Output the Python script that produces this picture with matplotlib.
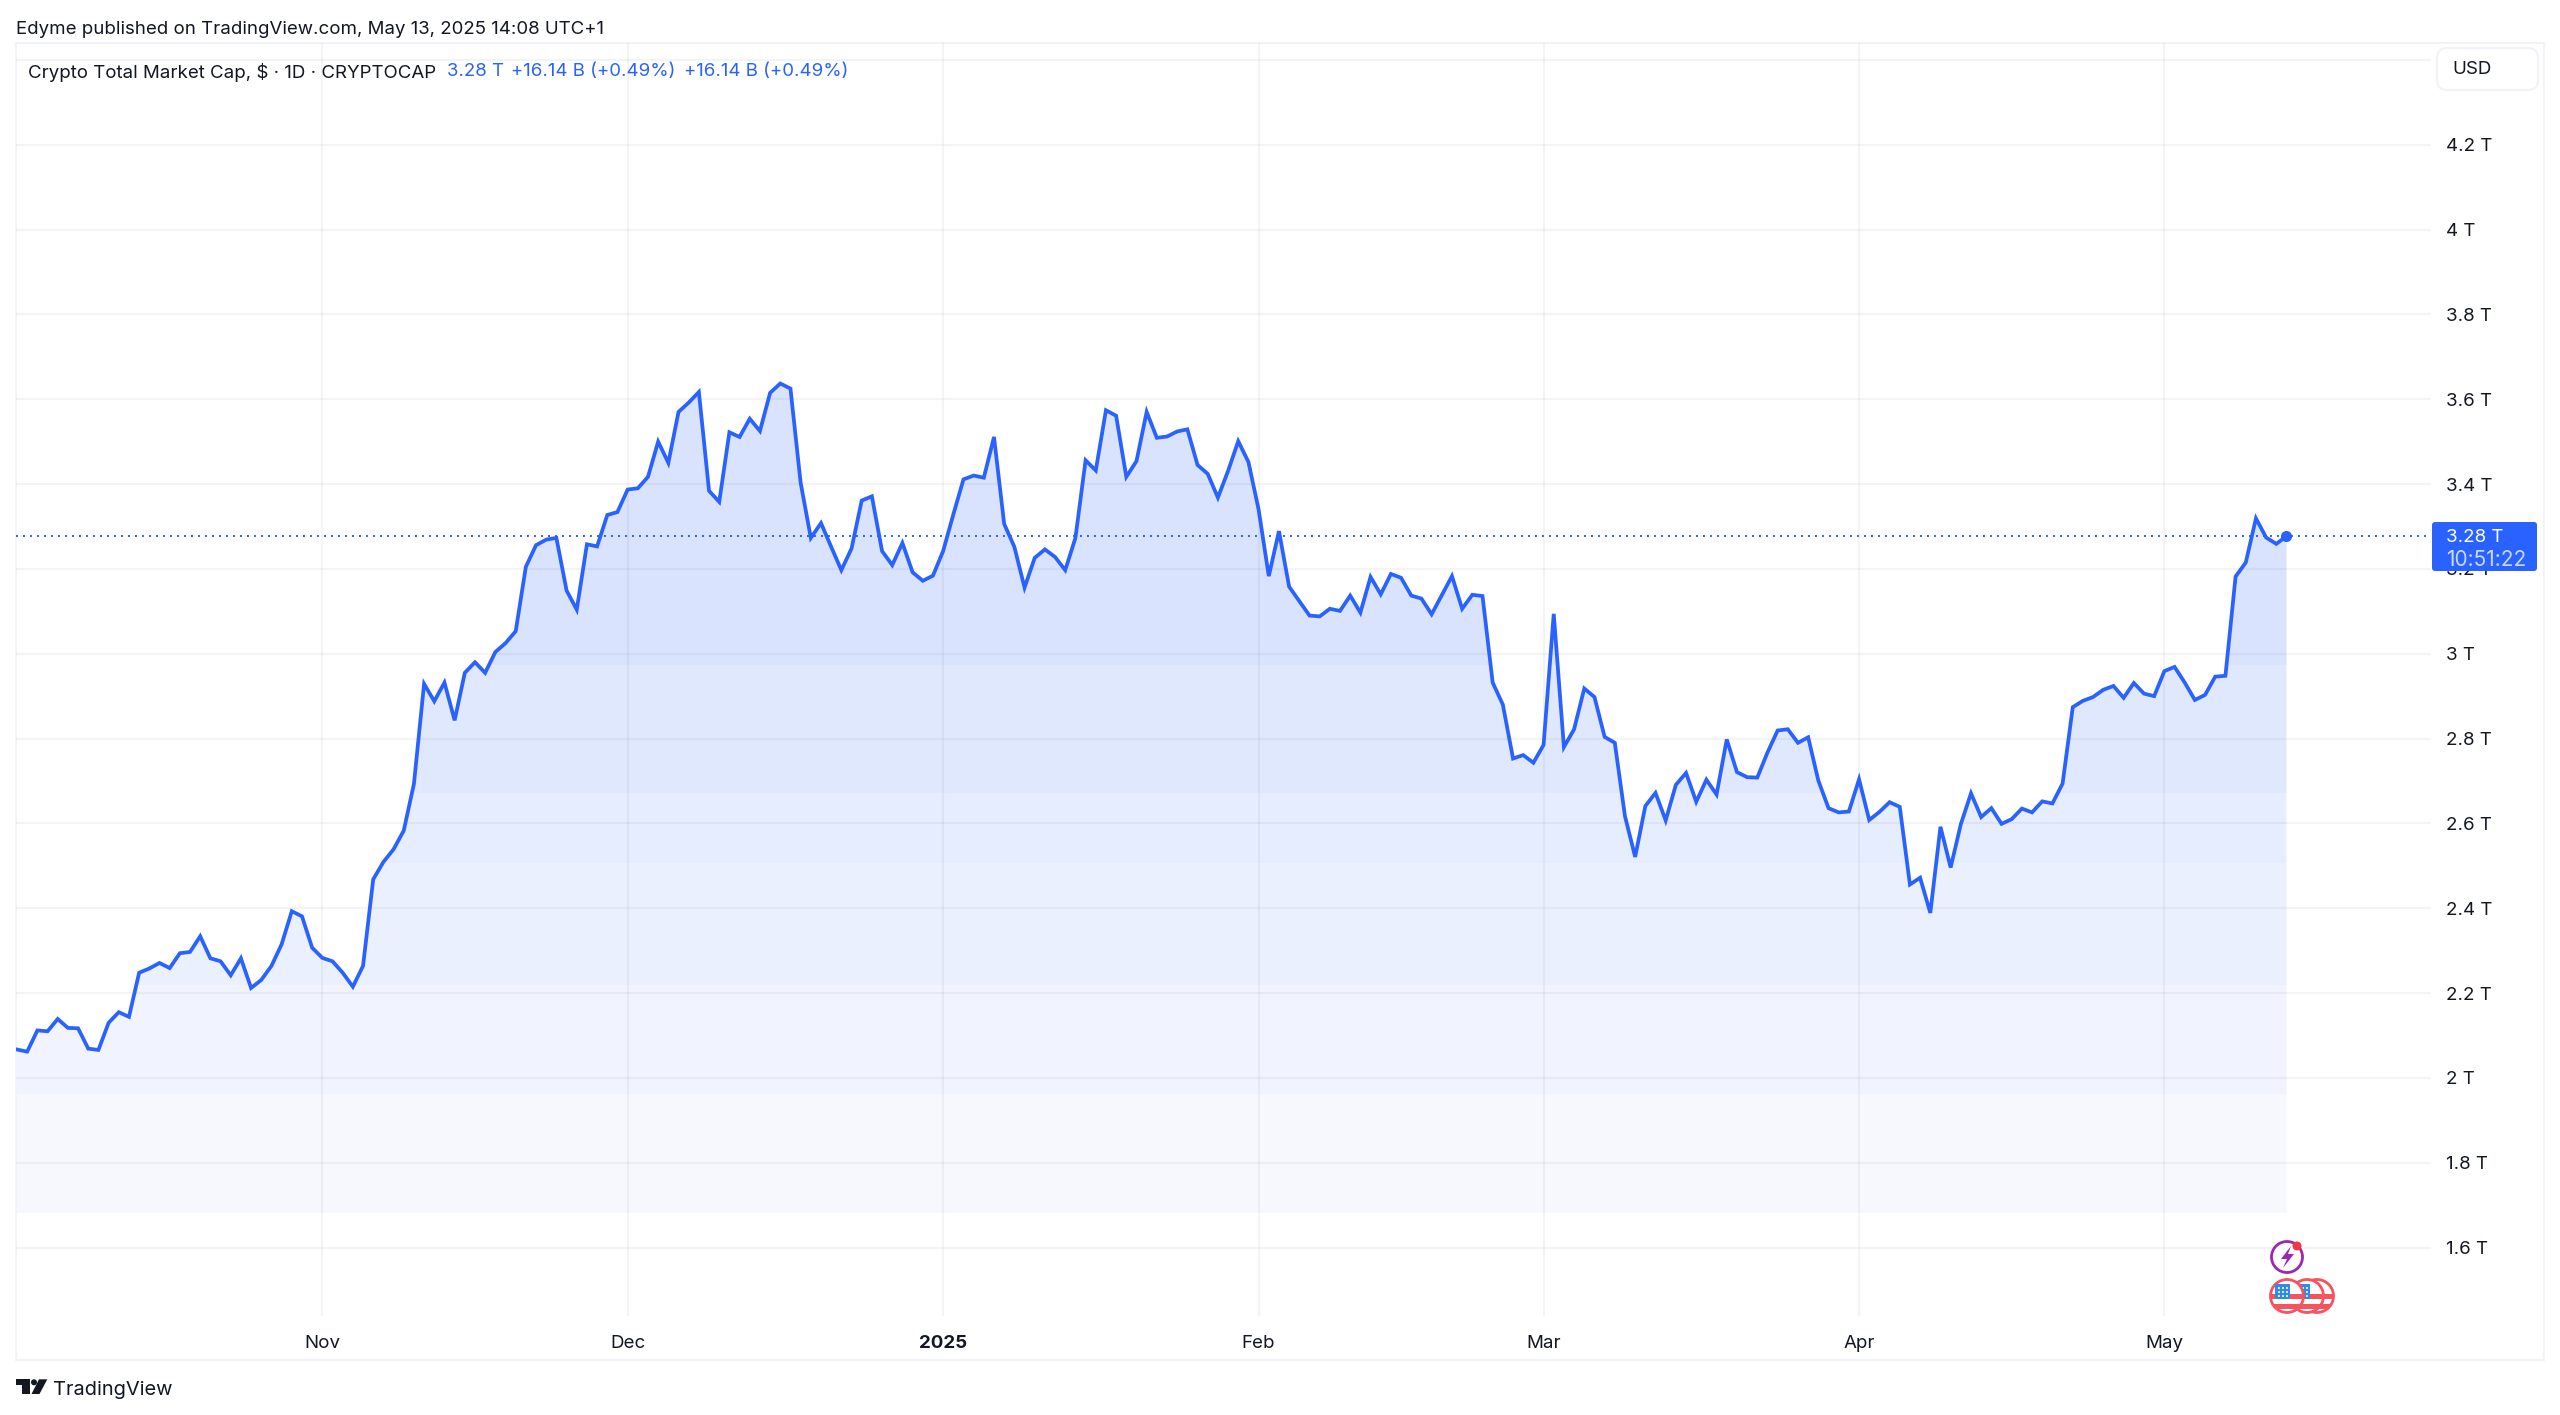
import numpy as np
import pandas as pd
import matplotlib
matplotlib.use("Agg")
import matplotlib.pyplot as plt
import matplotlib.dates as mdates
from matplotlib.patches import Circle, FancyBboxPatch, Polygon, Rectangle

plt.rcParams['font.family'] = ['Inter', 'DejaVu Sans']

# daily close in trillions
market_cap = [
    2.067, 2.062, 2.112, 2.110, 2.139, 2.118, 2.117, 2.069, 2.066, 2.130,
    2.155, 2.144, 2.248, 2.258, 2.271, 2.259, 2.294, 2.297, 2.334, 2.282,
    2.275, 2.242, 2.282, 2.212, 2.231, 2.264, 2.315, 2.393, 2.381, 2.307,
    2.283, 2.275, 2.248, 2.215, 2.264, 2.468, 2.509, 2.539, 2.583, 2.693,
    2.929, 2.888, 2.932, 2.843, 2.955, 2.980, 2.955, 3.004, 3.025, 3.053,
    3.205, 3.256, 3.269, 3.273, 3.149, 3.104, 3.258, 3.253, 3.327, 3.334,
    3.387, 3.390, 3.417, 3.500, 3.450, 3.570, 3.592, 3.617, 3.384, 3.358,
    3.522, 3.511, 3.554, 3.525, 3.615, 3.637, 3.625, 3.403, 3.273, 3.308,
    3.252, 3.197, 3.248, 3.361, 3.371, 3.242, 3.209, 3.261, 3.192, 3.172,
    3.184, 3.242, 3.328, 3.411, 3.420, 3.415, 3.511, 3.306, 3.252, 3.156,
    3.226, 3.246, 3.228, 3.197, 3.273, 3.456, 3.432, 3.574, 3.561, 3.417,
    3.454, 3.570, 3.509, 3.512, 3.524, 3.529, 3.445, 3.424, 3.368, 3.431,
    3.501, 3.452, 3.340, 3.183, 3.289, 3.158, 3.124, 3.090, 3.088, 3.106,
    3.101, 3.137, 3.097, 3.181, 3.140, 3.188, 3.179, 3.137, 3.130, 3.093,
    3.138, 3.183, 3.106, 3.139, 3.136, 2.932, 2.880, 2.753, 2.761, 2.743,
    2.785, 3.094, 2.780, 2.822, 2.918, 2.898, 2.804, 2.790, 2.617, 2.521,
    2.641, 2.672, 2.607, 2.691, 2.719, 2.651, 2.703, 2.668, 2.798, 2.721,
    2.709, 2.708, 2.767, 2.819, 2.822, 2.790, 2.803, 2.701, 2.636, 2.626,
    2.628, 2.704, 2.608, 2.627, 2.650, 2.639, 2.456, 2.472, 2.389, 2.592,
    2.496, 2.598, 2.671, 2.615, 2.636, 2.599, 2.610, 2.635, 2.626, 2.652,
    2.647, 2.694, 2.874, 2.889, 2.898, 2.915, 2.924, 2.896, 2.931, 2.906,
    2.900, 2.959, 2.969, 2.932, 2.891, 2.903, 2.946, 2.948, 3.182, 3.215,
    3.319, 3.274, 3.259, 3.277,
]
dates = pd.date_range("2024-10-02", periods=len(market_cap))

month_ticks = ["2024-11-01", "2024-12-01", "2025-01-01", "2025-02-01",
               "2025-03-01", "2025-04-01", "2025-05-01"]
month_labels = ["Nov", "Dec", "2025", "Feb", "Mar", "Apr", "May"]
price_ticks = [1.6, 1.8, 2.0, 2.2, 2.4, 2.6, 2.8, 3.0, 3.2, 3.4, 3.6, 3.8, 4.0, 4.2, 4.4]
price_labels = ["1.6 T", "1.8 T", "2 T", "2.2 T", "2.4 T", "2.6 T", "2.8 T", "3 T",
                "3.2 T", "3.4 T", "3.6 T", "3.8 T", "4 T", "4.2 T", ""]

# the area gradient comes out in steps in the screenshot
band_edges = [1.681, 1.962, 2.219, 2.507, 2.672, 2.973, 3.75]
band_colors = ["#F6F8FE", "#F1F4FE", "#EAF0FE", "#E6EDFE", "#E0E8FD", "#D9E3FD"]

BLUE = "#2962FF"
INK = "#131722"
FRAME = "#F1F3F8"
W, H = 2560, 1415

fig = plt.figure(figsize=(W / 100, H / 100), dpi=100, facecolor="white")

# pixel overlay for everything around the plot pane
over = fig.add_axes([0, 0, 1, 1], zorder=0)
over.set_xlim(0, W)
over.set_ylim(H, 0)
over.axis("off")
over.add_patch(Rectangle((16, 43), 2528, 1317, fc="none", ec=FRAME, lw=1.5))

ax = fig.add_axes([16 / W, (H - 1316) / H, (2431 - 16) / W, (1316 - 43) / H], zorder=1)
ax.patch.set_alpha(0)
for s in ax.spines.values():
    s.set_visible(False)

# banded area under the line
area = ax.fill_between(dates, band_edges[0], market_cap, color="none", lw=0)
for i, c in enumerate(band_colors):
    band = ax.axhspan(band_edges[i], band_edges[i + 1], color=c, lw=0, zorder=1)
    band.set_clip_path(area.get_paths()[0], area.get_transform())

ax.plot(dates, market_cap, color=BLUE, lw=2.7, zorder=3, solid_joinstyle="miter")
ax.plot(dates[-1], market_cap[-1], "o", color=BLUE, ms=8, mew=0, zorder=4)
ax.axhline(market_cap[-1], color=BLUE, lw=1.4, ls=(0, (1, 2.6)), zorder=2.8)

ax.set_xlim(pd.Timestamp("2024-11-01") - pd.Timedelta(days=30.1),
            pd.Timestamp("2024-11-01") + pd.Timedelta(days=207.2))
ax.set_ylim(1.4388, 4.4397)

ax.set_xticks([mdates.date2num(pd.Timestamp(m)) for m in month_ticks])
ax.set_xticklabels(month_labels, fontsize=13.5, color=INK)
ax.get_xticklabels()[2].set_fontweight("bold")
ax.yaxis.tick_right()
ax.set_yticks(price_ticks)
ax.set_yticklabels(price_labels, fontsize=13.5, color=INK)
ax.tick_params(axis="x", length=0, pad=14)
ax.tick_params(axis="y", length=0, pad=11)
ax.grid(True, color="#2A2E39", alpha=0.05, lw=1.5)
ax.set_axisbelow(False)

# header and legend
over.text(16, 29, "Edyme published on TradingView.com, May 13, 2025 14:08 UTC+1",
          fontsize=13.45, color=INK, va="center")
over.text(28, 72, "Crypto Total Market Cap, $ · 1D · CRYPTOCAP", fontsize=13.45, color=INK, va="center")
over.text(447, 72, "3.28 T", fontsize=13.45, color=BLUE, va="center")
over.text(511, 72, "+16.14 B (+0.49%)", fontsize=13.45, color=BLUE, va="center")
over.text(684, 72, "+16.14 B (+0.49%)", fontsize=13.45, color=BLUE, va="center")

over.add_patch(FancyBboxPatch((2445, 56), 85, 26, boxstyle="round,pad=8,rounding_size=10",
                              fc="white", ec=FRAME, lw=1.5))
over.text(2452, 70, "USD", fontsize=13.5, color=INK, va="center")

# last price tag, sits on top of the 3.2 T label
tag = fig.add_axes([0, 0, 1, 1], zorder=2)
tag.set_xlim(0, W)
tag.set_ylim(H, 0)
tag.axis("off")
tag.add_patch(FancyBboxPatch((2434, 524), 101, 45, boxstyle="round,pad=2,rounding_size=3",
                             fc=BLUE, ec="none"))
tag.text(2446, 537.5, "3.28 T", fontsize=13.5, color="white", va="center")
tag.text(2446, 559.5, "10:51:22", fontsize=15, color="#C9D8FF", va="center")

# event icons
tag.add_patch(Circle((2287, 1257), 15.5, fc="white", ec="#9C27B0", lw=2))
tag.add_patch(Polygon([(2291, 1246), (2281, 1259), (2287, 1259), (2283, 1268),
                       (2294, 1254), (2288, 1254)], fc="#9C27B0", ec="none"))
tag.add_patch(Circle((2297, 1246), 4.5, fc="#F23645", ec="none"))


def flag(cx, cy, r=16.5):
    # little round US flag
    ring = Circle((cx, cy), r, fc="white", ec="#F7525F", lw=2)
    tag.add_patch(ring)
    for sy in (cy, cy + 10):
        st = Rectangle((cx - r, sy - 2.5), 2 * r, 5, fc="#F7525F", ec="none")
        tag.add_patch(st)
        st.set_clip_path(ring)
    blue = Rectangle((cx - 12, cy - 12), 15, 15, fc="#2E8DEB", ec="none")
    tag.add_patch(blue)
    blue.set_clip_path(ring)
    for dx in (-8, -4, 0):
        for dy in (-8, -4, 0):
            tag.add_patch(Circle((cx + dx, cy + dy), 1, fc="white", ec="none"))


for cx in (2317, 2307, 2287):
    flag(cx, 1296)

# tradingview mark
over.add_patch(Polygon([(16, 1379.3), (29.5, 1379.3), (29.5, 1394), (22, 1394), (22, 1385.3), (16, 1385.3)],
                       fc=INK, ec="none"))
over.add_patch(Circle((34, 1382.3), 3, fc=INK, ec="none"))
over.add_patch(Polygon([(47.3, 1379.3), (39.5, 1394), (31.5, 1394), (39, 1379.3)], fc=INK, ec="none"))
over.text(53, 1390, "TradingView", fontsize=14.4, color=INK, va="center")

fig.savefig("out.png", dpi=100)
